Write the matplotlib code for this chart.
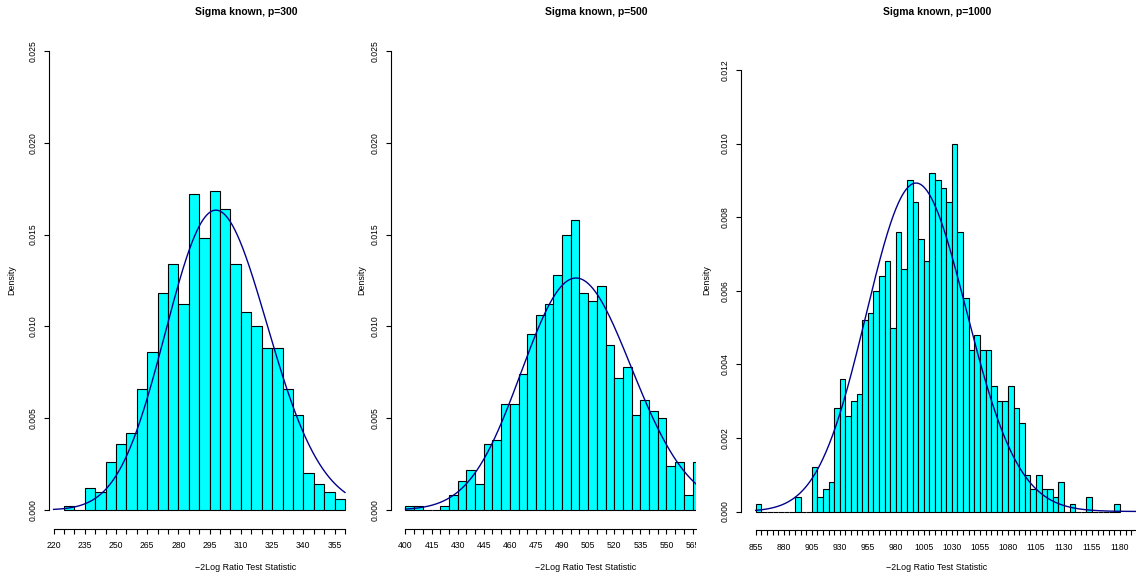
import math
import numpy as np
import matplotlib
matplotlib.use("Agg")
import matplotlib.pyplot as plt
from matplotlib.patches import Rectangle

plt.rcParams['font.family'] = ['Liberation Sans', 'DejaVu Sans']

# ---- dados (densidades do histograma, classes de largura 5) ----
bin_width = 5

p300_bins = list(range(225, 360, 5))
p300_density = [0.0002, 0.0000, 0.0012, 0.0010, 0.0026, 0.0036, 0.0042, 0.0066, 0.0086,
                0.0118, 0.0134, 0.0112, 0.0172, 0.0148, 0.0174, 0.0164, 0.0134, 0.0108,
                0.0100, 0.0088, 0.0088, 0.0066, 0.0052, 0.0020, 0.0014, 0.0010, 0.0006]

p500_bins = list(range(400, 570, 5))
p500_density = [0.0002, 0.0002, 0.0000, 0.0000, 0.0002, 0.0008, 0.0016, 0.0022, 0.0014,
                0.0036, 0.0038, 0.0058, 0.0058, 0.0074, 0.0096, 0.0106, 0.0112, 0.0128,
                0.0150, 0.0158, 0.0118, 0.0114, 0.0122, 0.0090, 0.0072, 0.0078, 0.0052,
                0.0060, 0.0054, 0.0050, 0.0024, 0.0026, 0.0008, 0.0026]

p1000_bins = list(range(855, 1180, 5))
p1000_density = [0.0002, 0, 0, 0, 0, 0, 0, 0.0004, 0, 0,
                 0.0012, 0.0004, 0.0006, 0.0008, 0.0028, 0.0036, 0.0026, 0.0030, 0.0032, 0.0052,
                 0.0054, 0.0060, 0.0064, 0.0068, 0.0050, 0.0076, 0.0066, 0.0090, 0.0084, 0.0074,
                 0.0068, 0.0092, 0.0090, 0.0088, 0.0084, 0.0100, 0.0076, 0.0058, 0.0044, 0.0048,
                 0.0044, 0.0044, 0.0034, 0.0030, 0.0030, 0.0034, 0.0028, 0.0024, 0.0010, 0.0006,
                 0.0010, 0.0006, 0.0006, 0.0004, 0.0008, 0, 0.0002, 0, 0, 0.0004,
                 0, 0, 0, 0, 0.0002]

# graus de liberdade da curva qui-quadrado de referência
p_values = [300, 500, 1000]
titles = ["Sigma known, p=300", "Sigma known, p=500", "Sigma known, p=1000"]
xlabel = "\u22122Log Ratio Test Statistic"

W, H = 1136, 578
fig = plt.figure(figsize=(W / 100, H / 100), dpi=100)


def dchisq(x, df):
    k = df / 2.0
    return np.exp((k - 1) * np.log(x) - x / 2.0 - k * math.log(2.0) - math.lgamma(k))


def painel(px_left, px_right, px_bottom, px_top, xref, xref_px, xscale, y0_px, yscale):
    ax = fig.add_axes([px_left / W, 1 - px_bottom / H,
                       (px_right - px_left) / W, (px_bottom - px_top) / H])
    ax.set_xlim(xref + (px_left - xref_px) / xscale, xref + (px_right - xref_px) / xscale)
    ax.set_ylim((y0_px - px_bottom) / yscale, (y0_px - px_top) / yscale)
    for s in ('top', 'right'):
        ax.spines[s].set_visible(False)
    for s in ('left', 'bottom'):
        ax.spines[s].set_linewidth(0.8)
    ax.tick_params(direction='out', length=3.6, width=0.8, labelsize=6.2, pad=4.5)
    ax.tick_params(axis='x', pad=5.5)
    ax.tick_params(axis='y', labelrotation=90)
    return ax


def eixos(ax, xticks, label_every, yticks, xb, yb):
    ax.set_xticks(xticks)
    ax.set_xticklabels([str(t) if i % label_every == 0 else '' for i, t in enumerate(xticks)])
    ax.set_yticks(yticks)
    ax.set_yticklabels(["%.3f" % t for t in yticks], va='center')
    ax.spines['bottom'].set_bounds(*xb)
    ax.spines['left'].set_bounds(*yb)


def histograma(ax, bins, dens, df, x0, x1):
    ax.bar(bins, dens, width=bin_width, align='edge', color='#00FFFF',
           edgecolor='black', linewidth=0.8)
    xs = np.linspace(x0, x1, 600)
    ax.plot(xs, dchisq(xs, df), color='#00008B', lw=1.0)


# painel p=300
ax1 = painel(49.3, 352, 528.5, 33, 220, 53.6, 2.081, 510, 18360)
histograma(ax1, p300_bins, p300_density, p_values[0], 220, 360)
eixos(ax1, list(range(220, 365, 5)), 3, [0, 0.005, 0.010, 0.015, 0.020, 0.025], (220, 360), (0, 0.025))

# painel p=500
ax2 = painel(391, 696, 528.5, 33, 400, 405.5, 1.74, 510, 18360)
histograma(ax2, p500_bins, p500_density, p_values[1], 400, 600)
eixos(ax2, list(range(400, 570, 5)), 3, [0, 0.005, 0.010, 0.015, 0.020, 0.025], (400, 567), (0, 0.025))

# painel p=1000
ax3 = painel(741, 1160, 530, 33, 855, 755.7, 1.121, 511.5, 36790)
histograma(ax3, p1000_bins, p1000_density, p_values[2], 855, 1200)
eixos(ax3, list(range(855, 1200, 5)), 5, [0, 0.002, 0.004, 0.006, 0.008, 0.010, 0.012], (855, 1195), (0, 0.012))

# títulos e rótulos
for xc, t in zip([246, 596, 937], titles):
    fig.text(xc / W, 1 - 12 / H, t, ha='center', va='center', fontsize=7.5, fontweight='bold')
for xc in [246, 586, 937]:
    fig.text(xc / W, 1 - 567 / H, xlabel, ha='center', va='center', fontsize=6.4)
for xc in [12, 362, 707]:
    fig.text(xc / W, 1 - 280 / H, "Density", ha='center', va='center', fontsize=6.4, rotation=90)

# o painel do meio é cortado na borda direita
fig.add_artist(Rectangle((696 / W, 1 - 562 / H), 5 / W, 30 / H, transform=fig.transFigure,
                         facecolor='white', edgecolor='none', zorder=10))

fig.savefig("out.png", dpi=100, facecolor='white')
